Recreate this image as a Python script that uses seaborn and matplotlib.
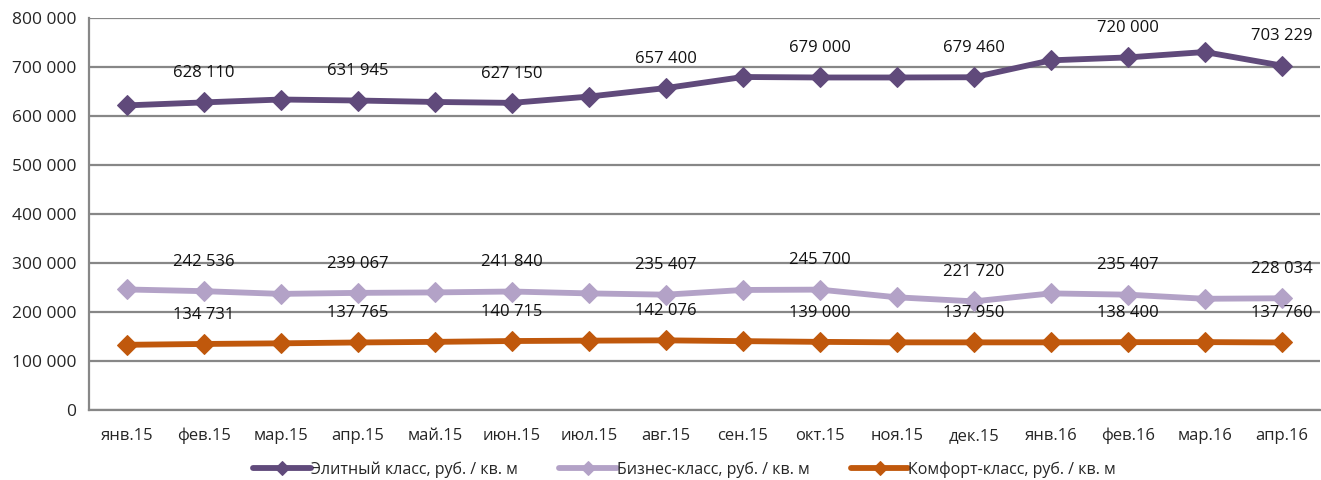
import numpy as np
import pandas as pd
import matplotlib
matplotlib.use("Agg")
import matplotlib.pyplot as plt
import seaborn as sns
from matplotlib.ticker import FuncFormatter, MultipleLocator

months = ['янв.15', 'фев.15', 'мар.15', 'апр.15', 'май.15', 'июн.15', 'июл.15', 'авг.15',
          'сен.15', 'окт.15', 'ноя.15', 'дек.15', 'янв.16', 'фев.16', 'мар.16', 'апр.16']
elite = [622000, 628110, 634000, 631945, 629000, 627150, 640000, 657400,
         680000, 679000, 679000, 679460, 714000, 720000, 731000, 703229]
business = [246000, 242536, 237000, 239067, 240000, 241840, 238000, 235407,
            245000, 245700, 230000, 221720, 238000, 235407, 227000, 228034]
comfort = [133000, 134731, 136000, 137765, 139000, 140715, 141500, 142076,
           140500, 139000, 138000, 137950, 138000, 138400, 138500, 137760]
names = ['Элитный класс, руб. / кв. м', 'Бизнес-класс, руб. / кв. м', 'Комфорт-класс, руб. / кв. м']
colors = ['#604a7b', '#b3a2c7', '#c0580c']

sns.set_style("white")
plt.rcParams['font.family'] = ['Open Sans', 'DejaVu Sans']

fig, ax = plt.subplots(figsize=(13.21, 4.8), dpi=100)
fig.subplots_adjust(left=0.067, right=0.9995, top=0.962, bottom=0.146)

x = np.arange(len(months))
for vals, name, col in zip([elite, business, comfort], names, colors):
    sns.lineplot(x=x, y=vals, ax=ax, color=col, linewidth=4.2, marker='D',
                 markersize=10, markeredgecolor=col, label=name)
    # labels on every second point
    for i in range(1, len(vals), 2):
        ax.annotate(f"{vals[i]:,}".replace(',', ' '), (x[i], vals[i]),
                    xytext=(0, 21), textcoords='offset points', ha='center',
                    va='center', fontsize=12, color='#111111')

ax.set_xlim(-0.5, len(months) - 0.5)
ax.set_ylim(0, 800000)
ax.yaxis.set_major_locator(MultipleLocator(100000))
ax.yaxis.set_major_formatter(FuncFormatter(lambda v, p: f"{int(v):,}".replace(',', ' ')))
ax.grid(axis='y', color='#878787', linewidth=1.6)
ax.set_axisbelow(True)

ax.set_xticks(x)
ax.set_xticklabels(months)
ax.set_xticks(np.arange(-0.5, len(months)), minor=True)
ax.tick_params(axis='x', which='major', length=0, pad=13, labelsize=12)
ax.tick_params(axis='x', which='minor', length=6, width=1.6, color='#878787', direction='out')
ax.tick_params(axis='y', length=6, width=1.6, color='#878787', labelsize=12.5, pad=3)

for s in ['top', 'right']:
    ax.spines[s].set_visible(False)
for s in ['left', 'bottom']:
    ax.spines[s].set_color('#878787')
    ax.spines[s].set_linewidth(1.6)

ax.legend(loc='upper center', bbox_to_anchor=(0.484, -0.095), ncol=3, frameon=False,
          fontsize=11.5, handlelength=3.6, handletextpad=0.0, columnspacing=2.6,
          markerscale=0.7)

plt.savefig("out.png", dpi=100)
